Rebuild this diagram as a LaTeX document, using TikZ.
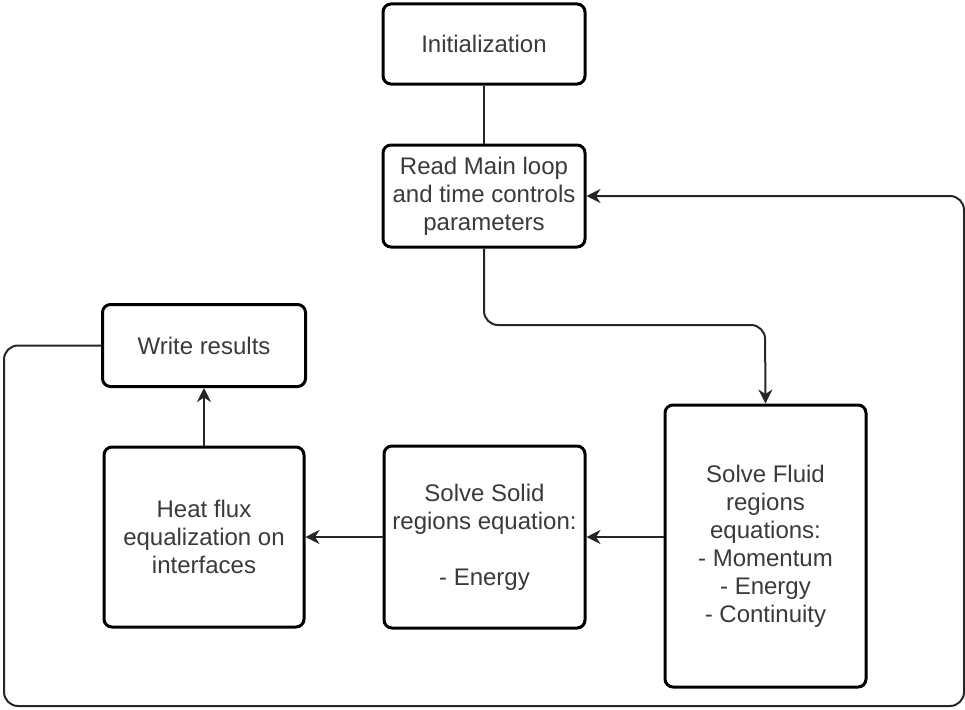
\documentclass[tikz,border=0pt]{standalone}
\usepackage{fontspec}
\setmainfont{Liberation Sans}
\usetikzlibrary{arrows.meta,calc}
\definecolor{txt}{HTML}{3A3A3A}
\tikzset{
  box/.style={draw=black, line width=3pt, rounded corners=8pt, fill=white,
    inner sep=0pt, align=center, text=txt,
    font=\fontsize{24}{28}\selectfont},
  conn/.style={draw=black!85, line width=2pt},
  arr/.style={conn, -{Stealth[length=14pt,width=14pt,inset=4.5pt]}}
}
\begin{document}
\begin{tikzpicture}[x=1pt,y=-1pt]
\useasboundingbox (0,0) rectangle (965,709);
\node[box, minimum width=202pt, minimum height=80pt] (init) at (484,44) {Initialization};
\node[box, minimum width=202pt, minimum height=102pt] (read) at (484,196) {Read Main loop\\and time controls\\parameters};
\node[box, minimum width=203pt, minimum height=82pt] (write) at (204,345.5) {Write results};
\node[box, minimum width=200pt, minimum height=180pt] (heat) at (204,537) {Heat flux\\equalization on\\interfaces};
\node[box, minimum width=201pt, minimum height=182pt] (solid) at (484.5,537) {Solve Solid\\regions equation:\\[28pt]- Energy};
\node[box, minimum width=201pt, minimum height=282pt] (fluid) at (765.5,546) {Solve Fluid\\regions\\equations:\\- Momentum\\- Energy\\- Continuity};
\coordinate (c1) at (765,325);
\coordinate (l1) at (4,345.5);
\coordinate (l2) at (4,706);
\coordinate (l3) at (964,706);
\coordinate (l4) at (964,196);
\draw[conn] (init.south) -- (read.north);
\draw[arr, rounded corners=14pt] (read.south) |- (c1) -- (fluid.north);
\draw[arr] (solid.east -| fluid.west) -- (solid.east);
\draw[arr] (solid.west) -- (heat.east);
\draw[arr] (heat.north) -- (write.south);
\draw[arr, rounded corners=14pt] (write.west) -- (l1) -- (l2) -- (l3) -- (l4) -- (read.east);
\end{tikzpicture}
\end{document}
